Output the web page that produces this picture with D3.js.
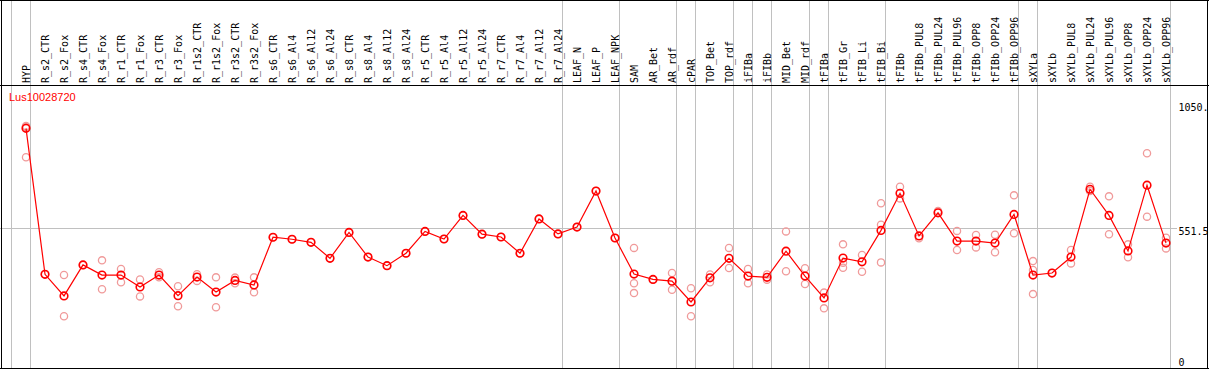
<!DOCTYPE html>
<html>
<head>
<meta charset="utf-8">
<script src="https://cdn.jsdelivr.net/npm/d3@7"></script>
<style>
  html, body { margin: 0; padding: 0; background: #fff; }
  svg { display: block; }
</style>
</head>
<body>
<svg id="chart" width="1209" height="370"></svg>
<script>
const title = "Lus10028720";

const categories = ["HYP","R_s2_CTR","R_s2_Fox","R_s4_CTR","R_s4_Fox","R_r1_CTR","R_r1_Fox","R_r3_CTR","R_r3_Fox",
  "R_r1s2_CTR","R_r1s2_Fox","R_r3s2_CTR","R_r3s2_Fox","R_s6_CTR","R_s6_Al4","R_s6_Al12","R_s6_Al24",
  "R_s8_CTR","R_s8_Al4","R_s8_Al12","R_s8_Al24","R_r5_CTR","R_r5_Al4","R_r5_Al12","R_r5_Al24",
  "R_r7_CTR","R_r7_Al4","R_r7_Al12","R_r7_Al24","LEAF_N","LEAF_P","LEAF_NPK","SAM","AR_Bet","AR_rdf",
  "cPAR","TOP_Bet","TOP_rdf","iFIBa","iFIBb","MID_Bet","MID_rdf","tFIBa","tFIB_Gr","tFIB_Li","tFIB_Bi",
  "tFIBb","tFIBb_PUL8","tFIBb_PUL24","tFIBb_PUL96","tFIBb_OPP8","tFIBb_OPP24","tFIBb_OPP96",
  "sXYLa","sXYLb","sXYLb_PUL8","sXYLb_PUL24","sXYLb_PUL96","sXYLb_OPP8","sXYLb_OPP24","sXYLb_OPP96"];

// mean expression per sample
const meanValues = [944,369,284,406,366,366,319,366,285,
  358,299,345,327,515,507,495,432,
  534,437,403,452,538,508,601,527,
  516,452,587,528,555,697,512,370,349,342,
  260,355,432,362,357,460,362,276,433,418,542,
  688,520,611,500,500,492,605,
  366,374,437,704,601,461,720,492];

// individual replicate values per sample
const replicateValues = [[953,949,830],[369],[366,204],[406],[424,310],[390,338],[349,282],[377,357],[322,243],
  [369,343],[357,239],[356,334],[357,298],[515],[507],[495],[432],
  [534],[437],[403],[452],[538],[508],[601],[527],
  [516],[452],[587],[528],[555],[697],[512],[473,334,295],[349],[374,308],
  [314,204],[368,338],[473,394],[390,334],[368,348],[538,381],[393,331],[297,235],[487,395,415],[445,379],[649,416,564],
  [714,668],[511],[618],[540,465],[524,475],[525,456],[680,531],
  [421,386,291],[374],[465,412],[714,697],[676,527],[487,436],[846,596],[513,471]];

// categories that start a new group (a grey separator at their left edge)
const groupStarts = ["HYP","R_s2_CTR","LEAF_N","SAM","cPAR","TOP_Bet","iFIBa","iFIBb","MID_Bet",
  "tFIBa","tFIB_Gr","tFIBb","sXYLa","sXYLb"];

const yTicks = [0, 551.5, 1050];
const yTickLabels = ["0", "551.5", "1050."];

const W = 1209, H = 370;
const svg = d3.select("#chart");

const plotLeft = 11, plotRight = 1170, headerBottom = 85.5, plotBottom = 368;

const x = d3.scaleBand().domain(categories).range([plotLeft, plotRight]).padding(0);
const bw = x.bandwidth();
const px = c => x(c) + bw * 0.79;

const y = d3.scaleLinear().domain([0, 1050]).range([plotBottom, 101.4]);

// grey group separators (full height)
svg.append("g").selectAll("line").data(groupStarts).join("line")
  .attr("x1", d => Math.round(x(d)) + 0.5).attr("x2", d => Math.round(x(d)) + 0.5)
  .attr("y1", 0).attr("y2", plotBottom)
  .attr("stroke", "#c0c0c0").attr("stroke-width", 1);
svg.append("line")
  .attr("x1", Math.round(plotRight) + 0.5).attr("x2", Math.round(plotRight) + 0.5)
  .attr("y1", 0).attr("y2", plotBottom)
  .attr("stroke", "#c0c0c0").attr("stroke-width", 1);

// grey horizontal midline
svg.append("line")
  .attr("x1", 0).attr("x2", 1177)
  .attr("y1", Math.round(y(551.5)) + 0.5).attr("y2", Math.round(y(551.5)) + 0.5)
  .attr("stroke", "#c0c0c0").attr("stroke-width", 1);

// borders
const black = "#000";
svg.append("line").attr("x1", 0).attr("x2", W).attr("y1", 0.5).attr("y2", 0.5).attr("stroke", black);
svg.append("line").attr("x1", 0).attr("x2", W).attr("y1", headerBottom).attr("y2", headerBottom).attr("stroke", black);
svg.append("line").attr("x1", 0).attr("x2", W).attr("y1", plotBottom + 0.5).attr("y2", plotBottom + 0.5).attr("stroke", black);
svg.append("line").attr("x1", 1.5).attr("x2", 1.5).attr("y1", 0).attr("y2", plotBottom + 1).attr("stroke", black);
svg.append("line").attr("x1", 1207.5).attr("x2", 1207.5).attr("y1", 0).attr("y2", plotBottom + 1).attr("stroke", black);

// column labels
svg.append("g").selectAll("text").data(categories).join("text")
  .attr("transform", d => `translate(${px(d) + 3.5},83) rotate(-90)`)
  .attr("text-anchor", "start")
  .attr("font-family", "DejaVu Sans Mono, monospace")
  .attr("font-size", 10)
  .attr("fill", "#000")
  .text(d => d);

// title
svg.append("text")
  .attr("x", 9).attr("y", 101)
  .attr("font-family", "Liberation Sans, Arial, sans-serif")
  .attr("font-size", 11)
  .attr("fill", "#ff0000")
  .text(title);

// y labels
const ylab = svg.append("g").attr("font-family", "DejaVu Sans Mono, monospace").attr("font-size", 10).attr("fill", "#000");
ylab.append("text").attr("x", 1178.5).attr("y", y(yTicks[2]) + 9.5).text(yTickLabels[2]);
ylab.append("text").attr("x", 1178.5).attr("y", y(yTicks[1]) + 7.5).text(yTickLabels[1]);
ylab.append("text").attr("x", 1178.5).attr("y", y(yTicks[0]) - 2.5).text(yTickLabels[0]);

// replicate points
const reps = [];
categories.forEach((c, i) => replicateValues[i].forEach(v => reps.push({c, v})));
svg.append("g").selectAll("circle").data(reps).join("circle")
  .attr("cx", d => px(d.c)).attr("cy", d => y(d.v)).attr("r", 3.6)
  .attr("fill", "none").attr("stroke", "#f09a9a").attr("stroke-width", 1.3);

// mean line
const line = d3.line().x((d, i) => px(categories[i])).y(d => y(d));
svg.append("path").datum(meanValues).attr("d", line)
  .attr("fill", "none").attr("stroke", "#ff0000").attr("stroke-width", 1.2);

// mean points
svg.append("g").selectAll("circle").data(meanValues).join("circle")
  .attr("cx", (d, i) => px(categories[i])).attr("cy", d => y(d)).attr("r", 3.8)
  .attr("fill", "none").attr("stroke", "#ff0000").attr("stroke-width", 1.6);
</script>
</body>
</html>
